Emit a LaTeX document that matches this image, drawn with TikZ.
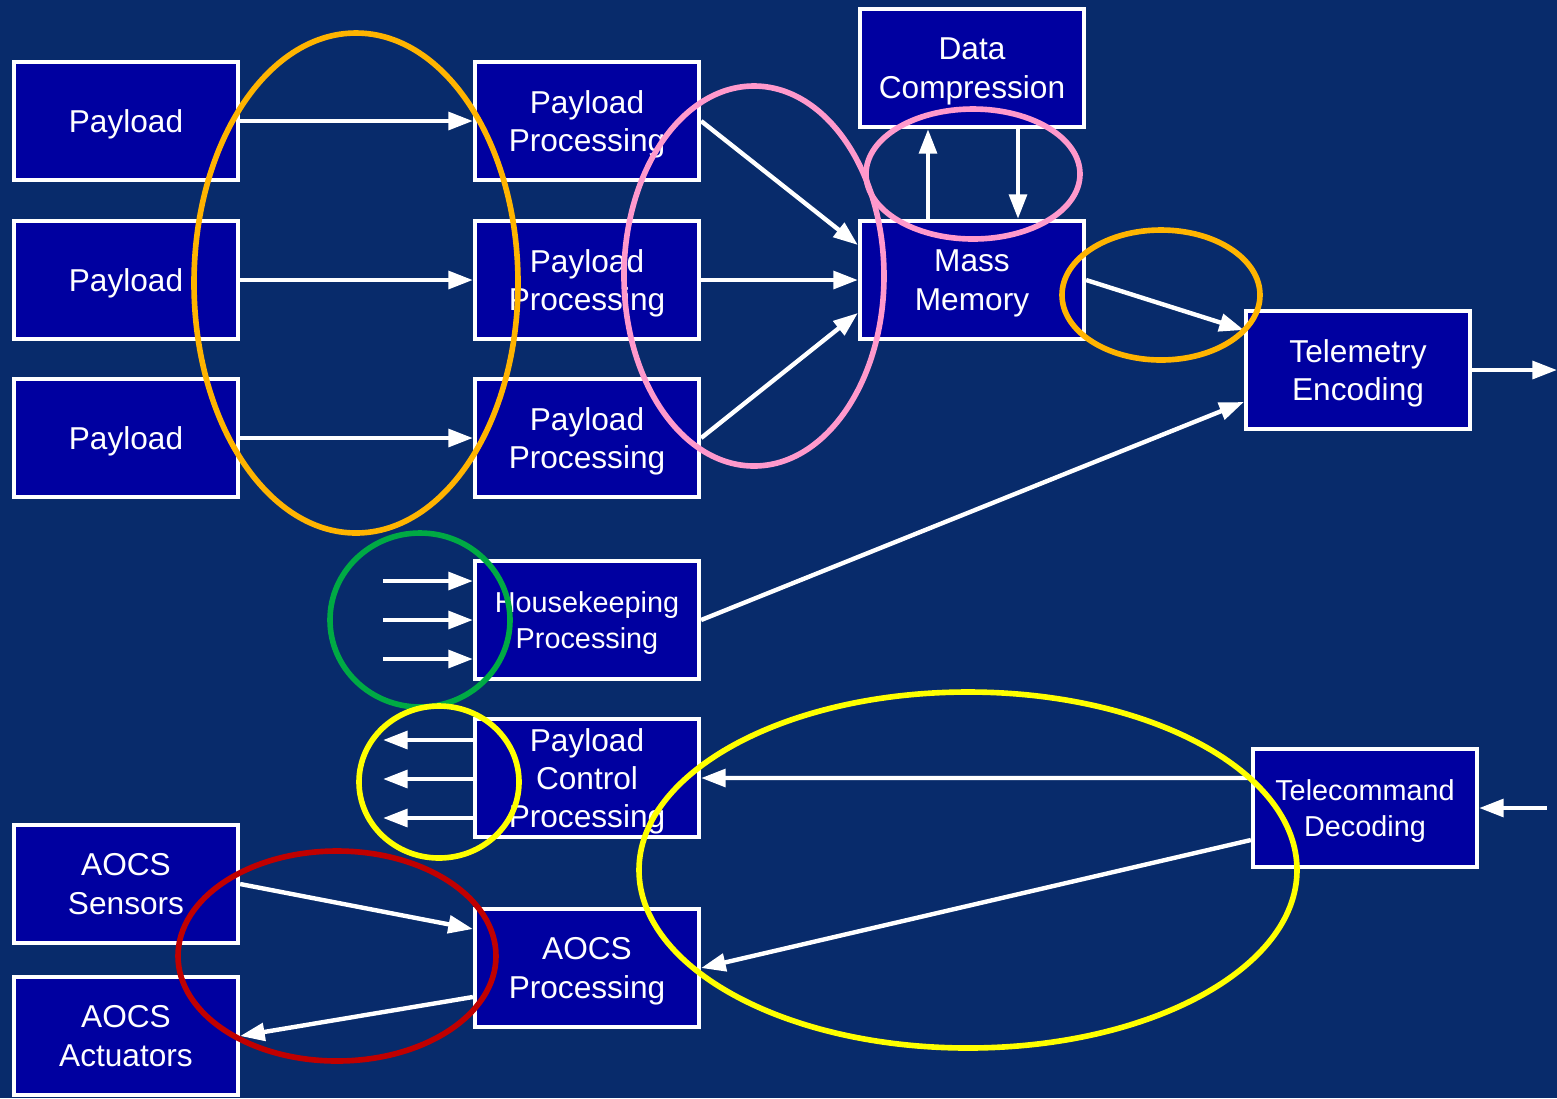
\documentclass[tikz,border=0pt]{standalone}
\usepackage{fontspec}
\setmainfont{Liberation Sans}
\usetikzlibrary{arrows.meta}
\definecolor{bgnavy}{RGB}{8,43,107}
\definecolor{boxblue}{RGB}{0,0,160}
\definecolor{ringorange}{RGB}{255,180,0}
\definecolor{ringpink}{RGB}{255,153,204}
\definecolor{ringgreen}{RGB}{0,170,68}
\definecolor{ringyellow}{RGB}{255,255,0}
\definecolor{ringred}{RGB}{192,0,0}
\begin{document}
\begin{tikzpicture}[x=0.1mm, y=-0.1mm,
		blk/.style={draw=white, line width=1.2pt, fill=boxblue, text=white, minimum width=22.4mm, minimum height=11.8mm, inner sep=0pt, text depth=0pt, align=center, font=\fontsize{9}{10.9}\selectfont},
		smallblk/.style={blk, font=\fontsize{8.2}{10}\selectfont},
		arr/.style={white, line width=1.25pt, -{Triangle[length=7pt,width=5pt]}},
		ring/.style={line width=1.6pt}]
		%background
		\useasboundingbox (0,0) rectangle (1557,1098);
		\fill[bgnavy] (0,0) rectangle (1557,1098);
		
		%payload chains
		\foreach \i/\y in {1/121, 2/280, 3/438}{
			\node[blk] (pay\i) at (126,\y) {Payload};
			\node[blk] (pp\i) at (587,\y) {Payload\\Processing};
			\draw[arr] (pay\i.east) -- (pp\i.west);
		}
		
		\node[blk] (dc) at (972,68) {Data\\Compression};
		\node[blk] (mm) at (972,280) {Mass\\Memory};
		\node[blk] (tme) at (1358,370) {Telemetry\\Encoding};
		\node[smallblk] (hk) at (587,620) {Housekeeping\\Processing};
		\node[blk] (pcp) at (587,778) {Payload\\Control\\Processing};
		\node[smallblk] (tcd) at (1365,808) {Telecommand\\Decoding};
		\node[blk] (asens) at (126,884) {AOCS\\Sensors};
		\node[blk] (aact) at (126,1036) {AOCS\\Actuators};
		\node[blk] (aproc) at (587,968) {AOCS\\Processing};
		
		\draw[arr] (pp1.east) -- ([yshift=3.5mm]mm.west);
		\draw[arr] (pp2.east) -- (mm.west);
		\draw[arr] (pp3.east) -- ([yshift=-3.3mm]mm.west);
		\draw[arr] ([xshift=-4.4mm]mm.north) -- ([xshift=-4.4mm]dc.south);
		\draw[arr] ([xshift=4.6mm]dc.south) -- ([xshift=4.6mm]mm.north);
		\draw[arr] (mm.east) -- ([yshift=4mm]tme.west);
		\draw[arr] (hk.east) -- ([yshift=-3.2mm]tme.west);
		
		\coordinate (tmout) at (1557,370);
		\coordinate (tcin) at (1547,808);
		\draw[arr] (tme.east) -- (tmout);
		\draw[arr] (tcin) -- (tcd.east);
		\draw[arr] ([yshift=3mm]tcd.west) -- (pcp.east);
		\draw[arr] ([yshift=-3.2mm]tcd.west) -- (aproc.east);
		
		%housekeeping inputs, control outputs
		\foreach \d [count=\k] in {-39, 0, 39}{
			\coordinate (hkin\k) at (383,620+\d);
			\coordinate (pcout\k) at (383,779+\d);
			\draw[arr] (hkin\k) -- (hk.west |- hkin\k);
			\draw[arr] (pcp.west |- pcout\k) -- (pcout\k);
		}
		
		\draw[arr] (asens.east) -- ([yshift=3.9mm]aproc.west);
		\draw[arr] ([yshift=-2.9mm]aproc.west) -- (aact.east);
		
		%rings
		\draw[ring, ringorange] (356,283) ellipse (16.2mm and 25mm);
		\draw[ring, ringpink] (754,276) ellipse (13mm and 19mm);
		\draw[ring, ringpink] (973,174) ellipse (10.7mm and 6.5mm);
		\draw[ring, ringorange] (1161,295) ellipse (9.9mm and 6.5mm);
		\draw[ring, ringgreen] (420,620) ellipse (9mm and 8.7mm);
		\draw[ring, ringyellow] (439,782) ellipse (8mm and 7.6mm);
		\draw[ring, ringyellow] (968,870) ellipse (32.9mm and 17.8mm);
		\draw[ring, ringred] (337,956) ellipse (15.9mm and 10.5mm);
\end{tikzpicture}
\end{document}
